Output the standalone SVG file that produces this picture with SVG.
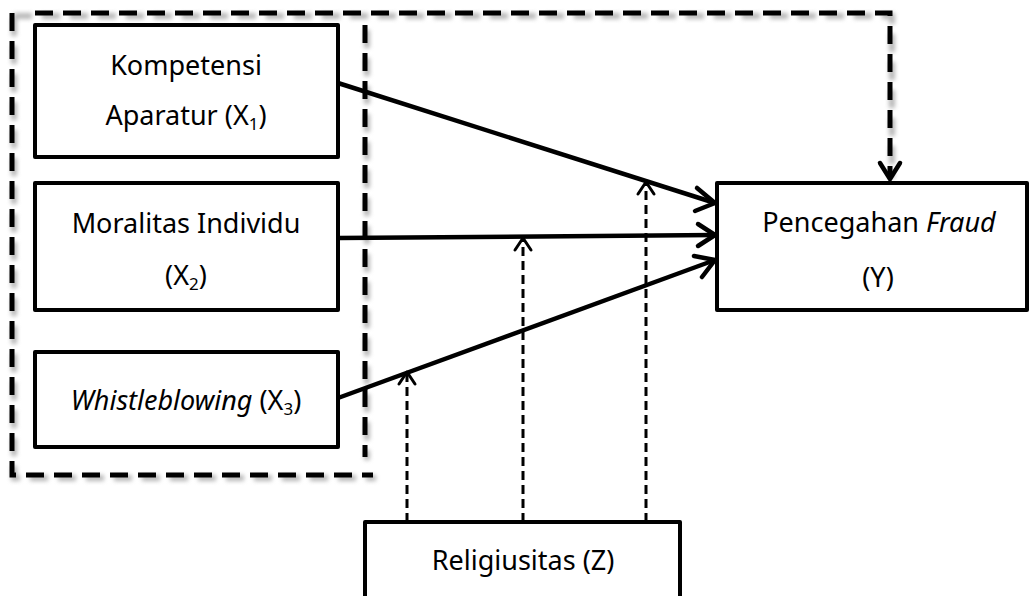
<svg xmlns="http://www.w3.org/2000/svg" width="1032" height="596" viewBox="0 0 1032 596">
<defs>
<style>
.box{fill:#fff;stroke:#000;stroke-width:4;stroke-linejoin:round}
.t{font-family:"Noto Sans","Open Sans",sans-serif;font-size:27px;fill:#000;text-anchor:middle}
.sub{font-size:17px}
.grp{fill:none;stroke:#000;stroke-width:5;stroke-dasharray:18 10}
.sh{fill:none;stroke:#888;stroke-width:6;stroke-dasharray:18 10;filter:url(#blur);opacity:.6}
.main{fill:none;stroke:#000;stroke-width:4.5}
.mod{fill:none;stroke:#000;stroke-width:3;stroke-dasharray:9 5}
.head{fill:none;stroke:#000;stroke-width:4.5;stroke-linecap:round;stroke-linejoin:round}
.mhead{fill:none;stroke:#000;stroke-width:3;stroke-linecap:round;stroke-linejoin:round}
</style>
<filter id="blur" x="-10%" y="-10%" width="120%" height="120%"><feGaussianBlur stdDeviation="2"/></filter>
</defs>
<rect width="1032" height="596" fill="#fff"/>
<g id="group-frame">
<path class="sh" d="M14 18 V478 H376 M367 30 V460 M14 16 H892 V178"/>
<path class="grp" d="M12 13 V475 H373"/>
<path class="grp" d="M365 25 V457"/>
<path class="grp" d="M35 13 H890 V178"/>
<path class="head" d="M880 163 L890 179 L900 163"/>
</g>
<g id="connectors">
<path class="main" d="M338 83 L715 203"/>
<path class="head" d="M697 188 L715 203 L695 211"/>
<path class="main" d="M338 238 L715 235"/>
<path class="head" d="M698 224 L715 235 L698 246"/>
<path class="main" d="M338 398 L715 260"/>
<path class="head" d="M694 256 L715 260 L702 277"/>
<path class="mod" d="M407 522 V373"/>
<path class="mhead" d="M399 384 L407 372 L415 384"/>
<path class="mod" d="M523 522 V238"/>
<path class="mhead" d="M515 250 L523 238 L531 250"/>
<path class="mod" d="M646 522 V182"/>
<path class="mhead" d="M638 194 L646 182 L654 194"/>
</g>
<g id="node-x1">
<rect class="box" x="35" y="25" width="303" height="132"/>
<text class="t" x="186" y="75">Kompetensi</text>
<text class="t" x="186" y="125">Aparatur (X<tspan class="sub" dy="5">1</tspan><tspan dy="-5">)</tspan></text>
</g>
<g id="node-x2">
<rect class="box" x="35" y="183" width="303" height="127"/>
<text class="t" x="186" y="233">Moralitas Individu</text>
<text class="t" x="186" y="285">(X<tspan class="sub" dy="5">2</tspan><tspan dy="-5">)</tspan></text>
</g>
<g id="node-x3">
<rect class="box" x="35" y="352" width="303" height="95"/>
<text class="t" x="186" y="410"><tspan font-style="italic">Whistleblowing</tspan> (X<tspan class="sub" dy="5">3</tspan><tspan dy="-5">)</tspan></text>
</g>
<g id="node-y">
<rect class="box" x="717" y="183" width="310" height="127"/>
<text class="t" x="879" y="232">Pencegahan <tspan font-style="italic">Fraud</tspan></text>
<text class="t" x="878" y="287">(Y)</text>
</g>
<g id="node-z">
<rect class="box" x="365" y="522" width="315" height="80"/>
<text class="t" x="523" y="570">Religiusitas (Z)</text>
</g>
</svg>
